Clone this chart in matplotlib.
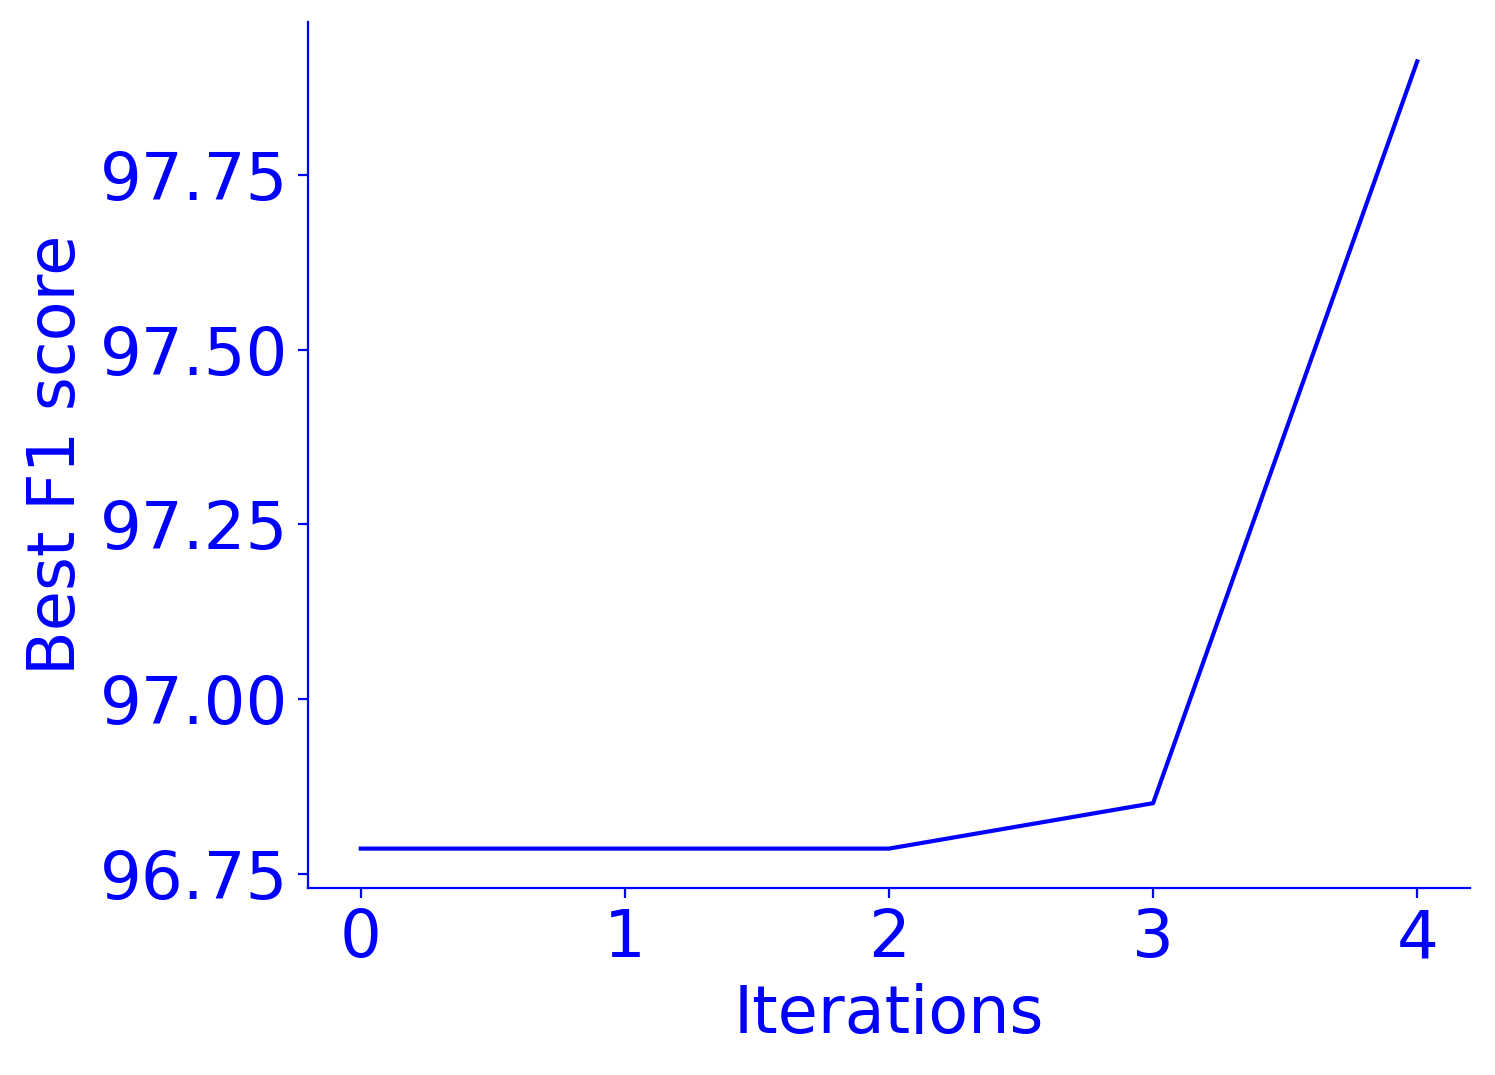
import matplotlib
matplotlib.use("Agg")
import matplotlib.pyplot as plt

iterations = [0, 1, 2, 3, 4]
best_f1 = [96.786, 96.786, 96.786, 96.851, 97.913]
xticks = [0, 1, 2, 3, 4]
yticks = [96.75, 97.00, 97.25, 97.50, 97.75]

color = "blue"
fig = plt.figure(figsize=(7.475, 5.375), dpi=200)
ax = fig.add_axes([0.206, 0.174, 0.7773, 0.8055])
ax.plot(iterations, best_f1, color=color, linewidth=1.5)
ax.set_xticks(xticks)
ax.set_yticks(yticks)
ax.set_yticklabels([f"{v:.2f}" for v in yticks])
ax.tick_params(colors=color, labelsize=23.7)
for s in ["top", "right"]:
    ax.spines[s].set_visible(False)
for s in ["left", "bottom"]:
    ax.spines[s].set_color(color)
ax.set_xlabel("Iterations", color=color, fontsize=23.5)
ax.set_ylabel("Best F1 score", color=color, fontsize=23.5)
fig.savefig("out.png", dpi=200)
